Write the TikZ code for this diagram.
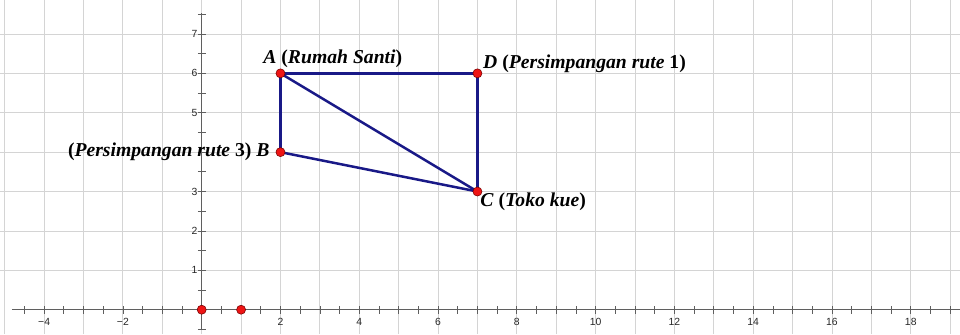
\documentclass[tikz,border=0pt]{standalone}
\usepackage{fontspec}
\setmainfont{Liberation Serif}
\newfontfamily\axisfont{Liberation Sans}

\definecolor{routeblue}{RGB}{25,25,135}
\definecolor{gridgray}{RGB}{212,212,212}
\definecolor{axisgray}{RGB}{95,95,95}
\definecolor{pointred}{RGB}{238,20,20}

\tikzset{
  route/.style={draw=routeblue, line width=1.8pt, line join=round},
  dot/.style={circle, fill=pointred, draw=red!45!black, line width=0.4pt,
    inner sep=0pt, minimum size=2.3mm},
  place/.style={font=\fontsize{14.2}{16}\selectfont\bfseries\itshape, inner sep=0pt},
  ticklabel/.style={font=\axisfont\fontsize{7.5}{8}\selectfont, text=black!85, inner sep=0pt}
}

\begin{document}
\begin{tikzpicture}
  \useasboundingbox (-5.12,-0.617) rectangle (19.25,7.862);

  % draw grid
  \foreach \x in {-5,...,19}
  \draw[gridgray, line width=0.6pt] (\x,-0.617) -- (\x,7.862);
  \foreach \y in {1,...,7}
  \draw[gridgray, line width=0.6pt] (-5.12,\y) -- (19.25,\y);

  % draw axes
  \draw[axisgray, line width=0.6pt] (-4.82,0) -- (19.25,0);
  \foreach \x in {-4.5,-4,...,19}
  \draw[axisgray, line width=0.5pt] (\x,-0.1) -- (\x,0.1);
  \draw[axisgray, line width=0.6pt] (0,-0.5) -- (0,7.54);
  \foreach \y in {-0.5,0,...,7.5}
  \draw[axisgray, line width=0.5pt] (-0.1,\y) -- (0.1,\y);

  % axis numbers
  \node[ticklabel] (xm4) at (-4,-0.31) {−4};
  \node[ticklabel] (xm2) at (-2,-0.31) {−2};
  \foreach \x in {2,4,...,18}
  \node[ticklabel] (x\x) at (\x,-0.31) {\x};
  \foreach \y in {1,2,3,5,6,7}
  \node[ticklabel, anchor=east] (y\y) at (-0.1,\y) {\y};

  % route points
  \coordinate (A) at (2,6);
  \coordinate (B) at (2,4);
  \coordinate (C) at (7,3);
  \coordinate (D) at (7,6);

  % draw routes
  \draw[route] (A) -- (D);
  \draw[route] (D) -- (C);
  \draw[route] (A) -- (B);
  \draw[route] (B) -- (C);
  \draw[route] (A) -- (C);

  % draw points
  \node[dot] (dotA) at (A) {};
  \node[dot] (dotB) at (B) {};
  \node[dot] (dotC) at (C) {};
  \node[dot] (dotD) at (D) {};
  \node[dot] (dotO) at (0,0) {};
  \node[dot] (dotE) at (1,0) {};

  % labels
  \node[place, anchor=base west] (labA) at (1.56,6.25) {A \textup{(}Rumah Santi\textup{)}};
  \node[place, anchor=base west] (labD) at (7.14,6.13) {D \textup{(}Persimpangan rute \textup{1)}};
  \node[place, anchor=base east] (labB) at (1.73,3.885) {\textup{(}Persimpangan rute \textup{3)} B};
  \node[place, anchor=base west] (labC) at (7.07,2.615) {C \textup{(}Toko kue\textup{)}};
\end{tikzpicture}
\end{document}
